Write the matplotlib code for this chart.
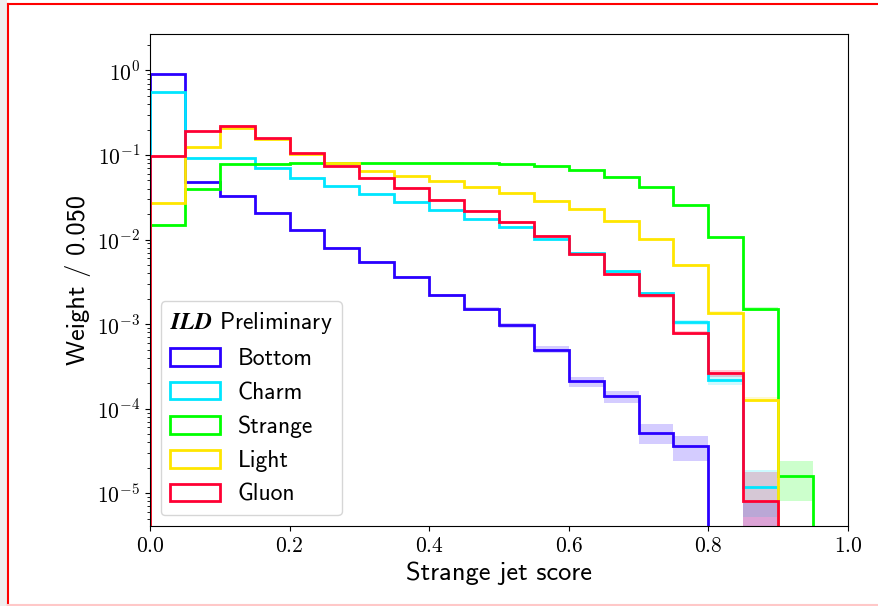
import numpy as np
import matplotlib
matplotlib.use("Agg")
import matplotlib.pyplot as plt
from matplotlib.patches import Patch, Rectangle
from matplotlib.lines import Line2D
from matplotlib.ticker import FuncFormatter, NullFormatter
from matplotlib.font_manager import FontProperties

plt.rcParams['mathtext.fontset'] = 'cm'

# bin layout of the score histograms
bin_width = 0.05
edges = np.round(np.arange(0, 1.0 + bin_width / 2, bin_width), 3)

# weights per bin
bottom = [0.90, 0.048, 0.033, 0.0207, 0.0130, 0.0080, 0.0054, 0.0036, 0.0022, 0.0015,
          9.7e-4, 5.0e-4, 2.1e-4, 1.4e-4, 5.2e-5, 3.6e-5, 0, 3.8e-6, 0, 0]
charm = [0.55, 0.093, 0.091, 0.071, 0.054, 0.043, 0.035, 0.028, 0.0223, 0.0175,
         0.0139, 0.0101, 0.0069, 0.0042, 0.00234, 0.00105, 2.2e-4, 1.2e-5, 0, 0]
strange = [0.015, 0.0396, 0.0776, 0.079, 0.081, 0.081, 0.080, 0.081, 0.0815, 0.080,
           0.0775, 0.074, 0.0664, 0.0554, 0.0415, 0.0256, 0.0106, 0.0015, 1.6e-5, 0]
light = [0.0273, 0.125, 0.210, 0.155, 0.103, 0.080, 0.065, 0.0564, 0.0492, 0.0422,
         0.0358, 0.0288, 0.0228, 0.0167, 0.0101, 0.0050, 0.00137, 1.28e-4, 0, 0]
gluon = [0.098, 0.192, 0.222, 0.158, 0.105, 0.0747, 0.054, 0.041, 0.0293, 0.0217,
         0.016, 0.011, 0.00673, 0.0039, 0.0022, 7.8e-4, 2.65e-4, 8e-6, 0, 0]

# statistical uncertainty bands
bottom_err = [0.002, 4e-4, 3.6e-4, 2.9e-4, 2.3e-4, 1.8e-4, 1.5e-4, 1.2e-4, 9e-5, 8e-5,
              6e-5, 4.5e-5, 3e-5, 2.4e-5, 1.4e-5, 1.2e-5, 0, 4.2e-6, 0, 0]
charm_err = [0.0015, 6e-4, 6e-4, 5e-4, 4.5e-4, 4e-4, 3.6e-4, 3.2e-4, 2.9e-4, 2.5e-4,
             2.3e-4, 1.9e-4, 1.6e-4, 1.2e-4, 9e-5, 6e-5, 2.9e-5, 6.7e-6, 0, 0]
strange_err = [2.4e-4, 4e-4, 5.5e-4, 5.6e-4, 5.7e-4, 5.7e-4, 5.6e-4, 5.7e-4, 5.7e-4, 5.6e-4,
               5.5e-4, 5.4e-4, 5.1e-4, 4.7e-4, 4e-4, 3.2e-4, 2e-4, 8e-5, 8e-6, 0]
light_err = [3e-4, 7e-4, 9e-4, 8e-4, 6.5e-4, 5.6e-4, 5e-4, 4.7e-4, 4.4e-4, 4.1e-4,
             3.8e-4, 3.4e-4, 3e-4, 2.6e-4, 2e-4, 1.4e-4, 7e-5, 9e-6, 0, 0]
gluon_err = [1e-3, 1.5e-3, 1.7e-3, 1.4e-3, 1.1e-3, 9.7e-4, 8e-4, 7e-4, 6e-4, 5e-4,
             4.5e-4, 3.7e-4, 2.9e-4, 2.2e-4, 1.7e-4, 4e-5, 2.5e-5, 1e-5, 0, 0]

labels = ["Bottom", "Charm", "Strange", "Light", "Gluon"]
colors = ["#2a00ff", "#00e6ff", "#00ff00", "#ffe600", "#ff0033"]
series = [bottom, charm, strange, light, gluon]
errors = [bottom_err, charm_err, strange_err, light_err, gluon_err]

fig = plt.figure(figsize=(8.79, 6.06), dpi=100)
ax = fig.add_axes([0.1706, 0.132, 0.7941, 0.8119])

floor = 1e-12
for vals, err, col in zip(series, errors, colors):
    v = np.array(vals)
    e = np.array(err)
    hi = np.maximum(v + e, floor)
    lo = np.maximum(v - e, floor)
    ax.stairs(hi, edges, baseline=lo, fill=True, color=col, alpha=0.2, lw=0)

for vals, col in zip(series, colors):
    ax.stairs(vals, edges, baseline=0, color=col, lw=2)

ax.set_yscale("log")
ax.set_xlim(0, 1)
ax.set_ylim(4.1e-6, 2.7)

ax.xaxis.set_major_formatter(FuncFormatter(lambda v, p: f"${v:.1f}$"))
ax.yaxis.set_major_formatter(FuncFormatter(lambda v, p: f"$10^{{{int(round(np.log10(v)))}}}$"))
ax.yaxis.set_minor_formatter(NullFormatter())
ax.tick_params(labelsize=15.5)

ax.set_xlabel("Strange jet score", family="cmss10", fontsize=19)
ax.set_ylabel("Weight / 0.050", family="cmss10", fontsize=19)

handles = [Patch(facecolor="none", edgecolor=c, lw=2) for c in colors]
leg = ax.legend(handles, labels, loc="lower left",
                prop=FontProperties(family="cmss10", size=17),
                title=r"$\mathbfit{ILD}$ Preliminary",
                title_fontproperties=FontProperties(family="cmss10", size=17, math_fontfamily="stix"),
                alignment="left", handlelength=2.1, handleheight=0.75, handletextpad=0.76,
                borderaxespad=0.45)

# screenshot frame around the figure
fig.add_artist(Rectangle((0, 0), 7 / 879, 1, transform=fig.transFigure, color="#efefef", lw=0))
fig.add_artist(Line2D([8 / 879, 1], [1 - 4 / 606] * 2, transform=fig.transFigure, color="red", lw=1.5))
fig.add_artist(Line2D([8 / 879] * 2, [0, 1 - 4 / 606], transform=fig.transFigure, color="red", lw=1.5))
fig.add_artist(Line2D([8 / 879, 1], [1 / 606] * 2, transform=fig.transFigure, color="#ffc8c8", lw=1.5))

fig.savefig("out.png", dpi=100)
